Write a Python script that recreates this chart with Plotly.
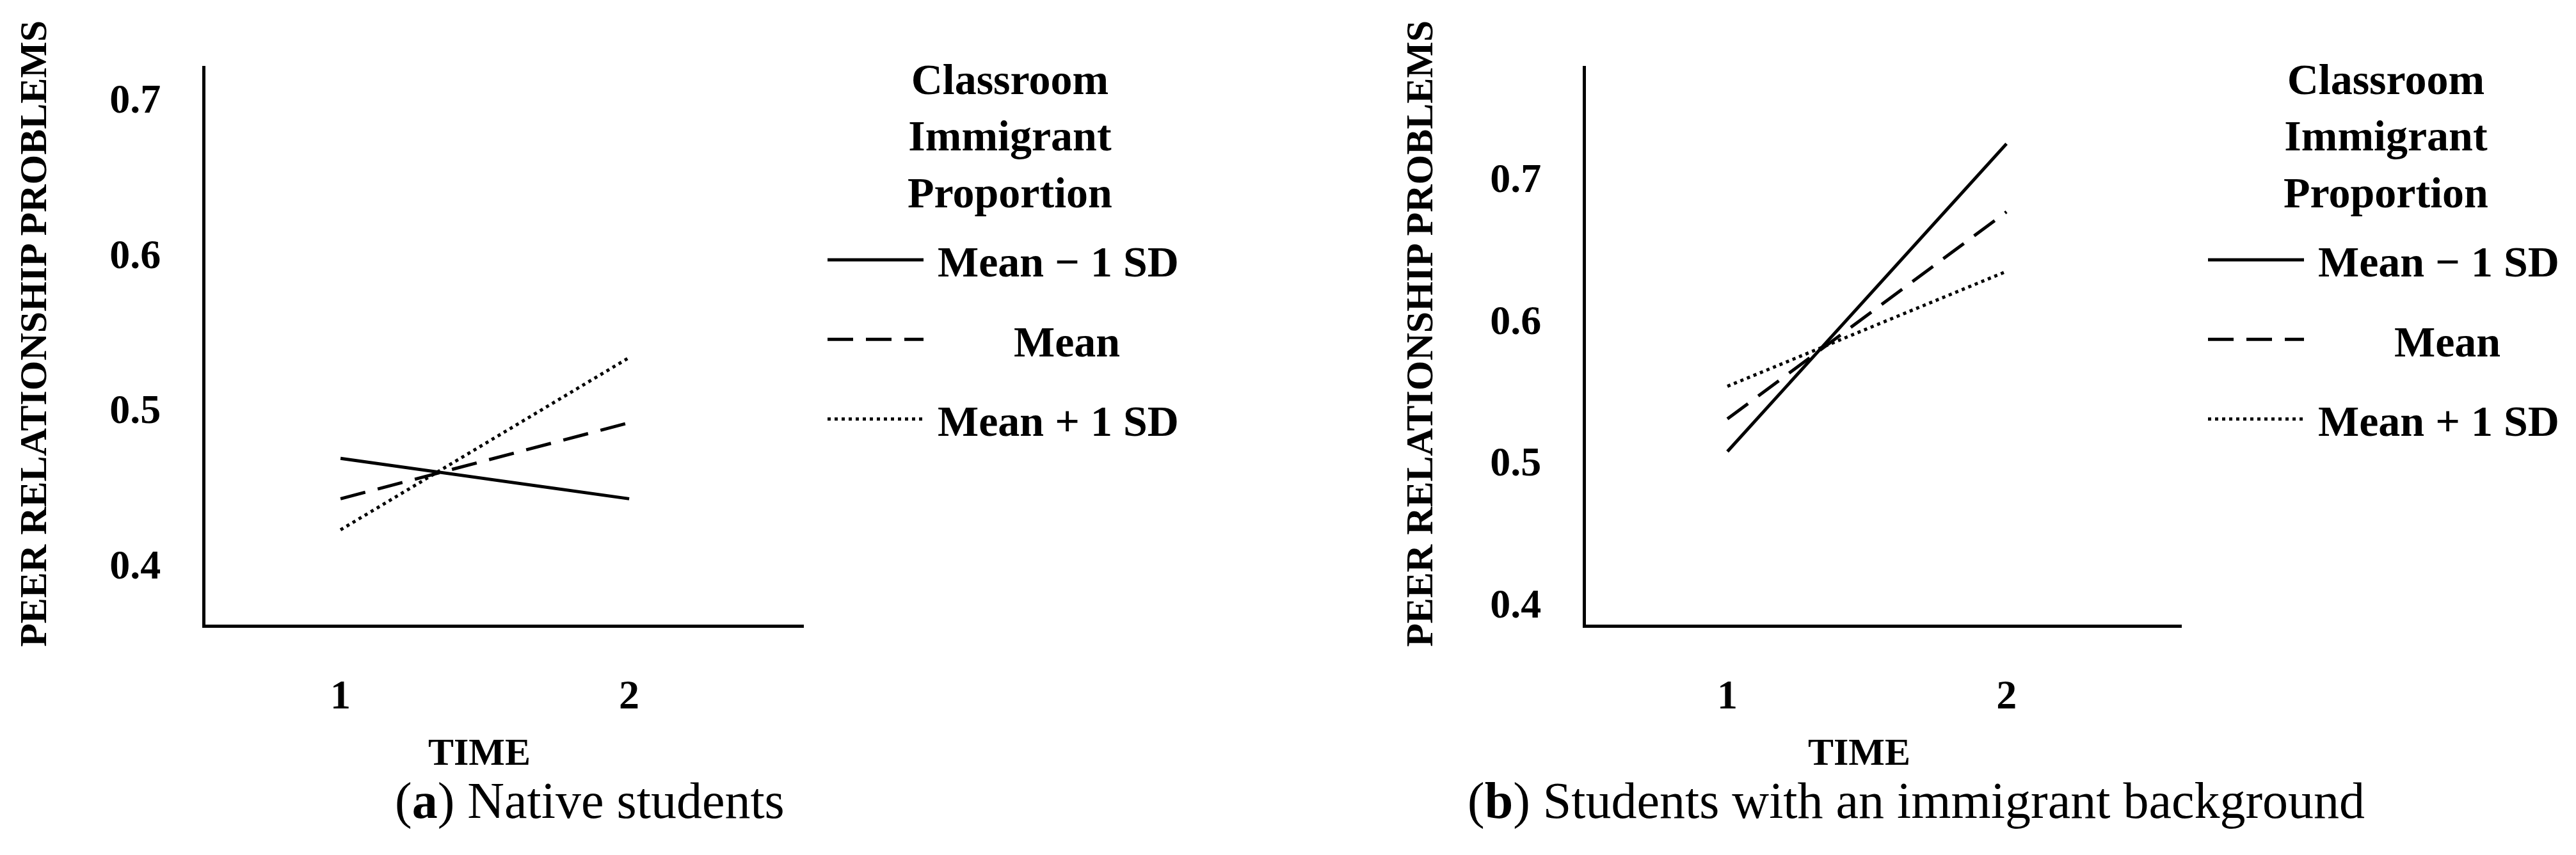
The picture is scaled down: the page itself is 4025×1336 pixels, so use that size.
import plotly.graph_objects as go

W, H = 4025, 1336

# ---- data ----
time = [1, 2]
x_ticks = [1, 2]
y_ticks = [0.4, 0.5, 0.6, 0.7]
y_ticktext = ["0.4", "0.5", "0.6", "0.7"]
NB = "\u00a0"
series_names = [NB + "Mean \u2212 1 SD", NB * 8 + "Mean", NB + "Mean + 1 SD"]
legend_title = "Classroom<br>Immigrant<br>Proportion"

native_low = [0.468, 0.442]
native_mean = [0.442, 0.491]
native_high = [0.422, 0.533]

immig_low = [0.507, 0.724]
immig_mean = [0.530, 0.676]
immig_high = [0.553, 0.634]

FONT = "Liberation Serif"
dashes = ["solid", "40px,20px", "5px,6px"]

fig = go.Figure()

panels = [
    ("x", "y", "legend", [native_low, native_mean, native_high]),
    ("x2", "y2", "legend2", [immig_low, immig_mean, immig_high]),
]
for xa, ya, lg, series in panels:
    for i, (name, vals) in enumerate(zip(series_names, series)):
        fig.add_trace(go.Scatter(
            x=time, y=vals, mode="lines", name=name,
            line=dict(color="black", width=5, dash=dashes[i]),
            xaxis=xa, yaxis=ya, legend=lg, legendgroup=f"{lg}_{i}",
            showlegend=True,
        ))

tickfont = dict(family=FONT, size=64, color="black", weight="bold")

def xaxis(domain, rng, anchor):
    return dict(domain=domain, range=rng, anchor=anchor, tickvals=x_ticks,
                ticktext=[str(t) for t in x_ticks], showline=True,
                linecolor="black", linewidth=5, ticks="", showgrid=False,
                zeroline=False, tickfont=tickfont, ticklabelstandoff=49,
                fixedrange=True)

def yaxis(domain, rng, anchor):
    return dict(domain=domain, range=rng, anchor=anchor, tickvals=y_ticks,
                ticktext=y_ticktext, showline=True, linecolor="black",
                linewidth=5, ticks="", showgrid=False, zeroline=False,
                tickfont=tickfont, ticklabelstandoff=52, fixedrange=True)

ydom = [1 - 970 / H, 1 - 95 / H]

legend_font = dict(family=FONT, size=68, color="black", weight="bold")
legend_common = dict(
    xanchor="left", yanchor="top",
    font=legend_font,
    itemwidth=150, tracegroupgap=33, traceorder="grouped",
    bgcolor="rgba(0,0,0,0)", borderwidth=0,
)

ann_font = dict(family=FONT, size=60, color="black", weight="bold")
cap_font = dict(family=FONT, size=80, color="black")

annotations = [
    dict(text="PEER RELATIONSHIP PROBLEMS", textangle=-90, x=44 / W, y=1 - 515 / H,
         xref="paper", yref="paper", showarrow=False, font=ann_font,
         xanchor="center", yanchor="middle"),
    dict(text="PEER RELATIONSHIP PROBLEMS", textangle=-90, x=2210 / W, y=1 - 515 / H,
         xref="paper", yref="paper", showarrow=False, font=ann_font,
         xanchor="center", yanchor="middle"),
    dict(text="TIME", x=741 / W, y=1 - 1170 / H, xref="paper", yref="paper",
         showarrow=False, font=ann_font, xanchor="center", yanchor="middle"),
    dict(text="TIME", x=2897 / W, y=1 - 1170 / H, xref="paper", yref="paper",
         showarrow=False, font=ann_font, xanchor="center", yanchor="middle"),
    dict(text="(<b>a</b>) Native students", x=607 / W, y=1 - 1246 / H,
         xref="paper", yref="paper", showarrow=False, font=cap_font,
         xanchor="left", yanchor="middle"),
    dict(text="(<b>b</b>) Students with an immigrant background", x=2283 / W,
         y=1 - 1246 / H, xref="paper", yref="paper", showarrow=False,
         font=cap_font, xanchor="left", yanchor="middle"),
    dict(text=legend_title, x=1570 / W, y=1 - 205 / H, xref="paper", yref="paper",
         showarrow=False, font=legend_font, xanchor="center", yanchor="middle",
         align="center"),
    dict(text=legend_title, x=3720 / W, y=1 - 205 / H, xref="paper", yref="paper",
         showarrow=False, font=legend_font, xanchor="center", yanchor="middle",
         align="center"),
]

fig.update_layout(
    width=W, height=H,
    margin=dict(l=0, r=0, t=0, b=0),
    paper_bgcolor="white", plot_bgcolor="white",
    xaxis=xaxis([313 / W, 1248 / W], [0.532, 2.605], "y"),
    yaxis=yaxis(ydom, [0.361, 0.721], "x"),
    xaxis2=xaxis([2470 / W, 3401 / W], [0.493, 2.628], "y2"),
    yaxis2=yaxis(ydom, [0.385, 0.779], "x2"),
    legend=dict(x=1280 / W, y=1 - 348 / H, **legend_common),
    legend2=dict(x=3437 / W, y=1 - 348 / H, **legend_common),
    annotations=annotations,
    showlegend=True,
)

fig.write_html("out.html")
